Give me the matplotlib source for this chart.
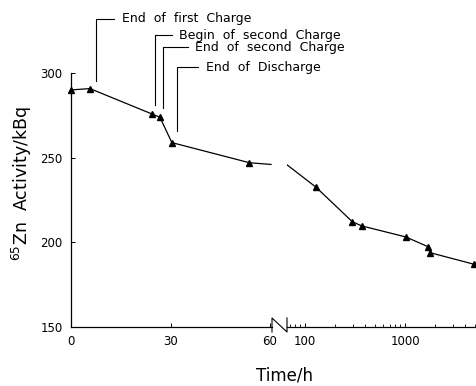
import numpy as np
import matplotlib
matplotlib.use("Agg")
import matplotlib.pyplot as plt
from matplotlib.lines import Line2D

# linear part of the time axis (h)
t_lin = [0, 5.7, 24.4, 26.8, 30.4, 53.8]
a_lin = [290, 290.8, 275.8, 273.9, 258.9, 247]
# line runs on to the axis break without a marker
t_lin_end = [53.8, 60.3]
a_lin_end = [247, 246]

# log part of the time axis (h)
t_log = [129, 297, 369, 1016, 1687, 1778, 4936]
a_log = [232.5, 212.2, 209.7, 203.2, 197.5, 193.9, 187]
t_log_start = [66, 129]
a_log_start = [245.8, 232.5]

# event labels: text, event time, leader top, leader bottom
events = ["End  of  first  Charge", "Begin  of  second  Charge",
          "End  of  second  Charge", "End  of  Discharge"]
ev_time = [7.5, 25.3, 27.7, 32.0]
ev_top = [331.9, 322.4, 315.3, 303.5]
ev_bottom = [295.3, 281.1, 279.3, 265.8]

W, H = 476, 386
fig = plt.figure(figsize=(W / 100, H / 100), dpi=100)
plt.rcParams['font.family'] = ['DejaVu Sans']

ax1 = fig.add_axes([71 / W, 1 - 327 / H, 200.7 / W, 254 / H])
ax2 = fig.add_axes([287 / W, 1 - 327 / H, 189 / W, 254 / H])

for ax in (ax1, ax2):
    ax.set_ylim(150, 300)
    ax.spines['top'].set_visible(False)
    ax.spines['right'].set_visible(False)
    ax.spines['bottom'].set_linewidth(0.9)
    ax.tick_params(direction='in', length=3, width=0.7, labelsize=8.5, pad=6)
    ax.patch.set_alpha(0)

ax2.spines['left'].set_visible(False)
ax2.set_yticks([])
ax1.spines['left'].set_linewidth(0.9)

ax1.set_xlim(0, 60.5)
ax1.set_xticks([0, 30, 60])
ax1.set_yticks([150, 200, 250, 300])

ax2.set_xscale('log')
ax2.set_xlim(66, 5130)
ax2.set_xticks([100, 1000])
ax2.set_xticklabels(["100", "1000"])
ax2.tick_params(which='minor', direction='in', length=2, width=0.6)

style = dict(color='black', lw=0.9)
mk = dict(marker='^', ms=4.5, color='black', ls='none', clip_on=False)
ax1.plot(t_lin, a_lin, **style, clip_on=False)
ax1.plot(t_lin_end, a_lin_end, **style)
ax1.plot(t_lin, a_lin, **mk)
ax2.plot(t_log_start, a_log_start, **style)
ax2.plot(t_log, a_log, **style, clip_on=False)
ax2.plot(t_log, a_log, **mk)

# event leaders and labels
hook = [5.5, 5.0, 7.5, 6.3]
for txt, tx, yt, yb, hk in zip(events, ev_time, ev_top, ev_bottom, hook):
    ax1.plot([tx, tx, tx + hk], [yb, yt, yt], color='black', lw=0.8,
             clip_on=False)
    ax1.text(tx + hk + 2.3, yt, txt, fontsize=9, va='center', ha='left')

# axis break mark "N"
nx = np.array([272, 272, 287, 287]) / W
ny = 1 - np.array([332, 318, 332, 318]) / H
fig.add_artist(Line2D(nx, ny, color='black', lw=0.8))

fig.text(285 / W, 1 - 376 / H, "Time/h", ha='center', va='center',
         fontsize=12)
fig.text(22 / W, 1 - 184 / H, "$^{65}$Zn  Activity/kBq", ha='center',
         va='center', rotation=90, fontsize=12.5)

fig.savefig("out.png", dpi=100)
